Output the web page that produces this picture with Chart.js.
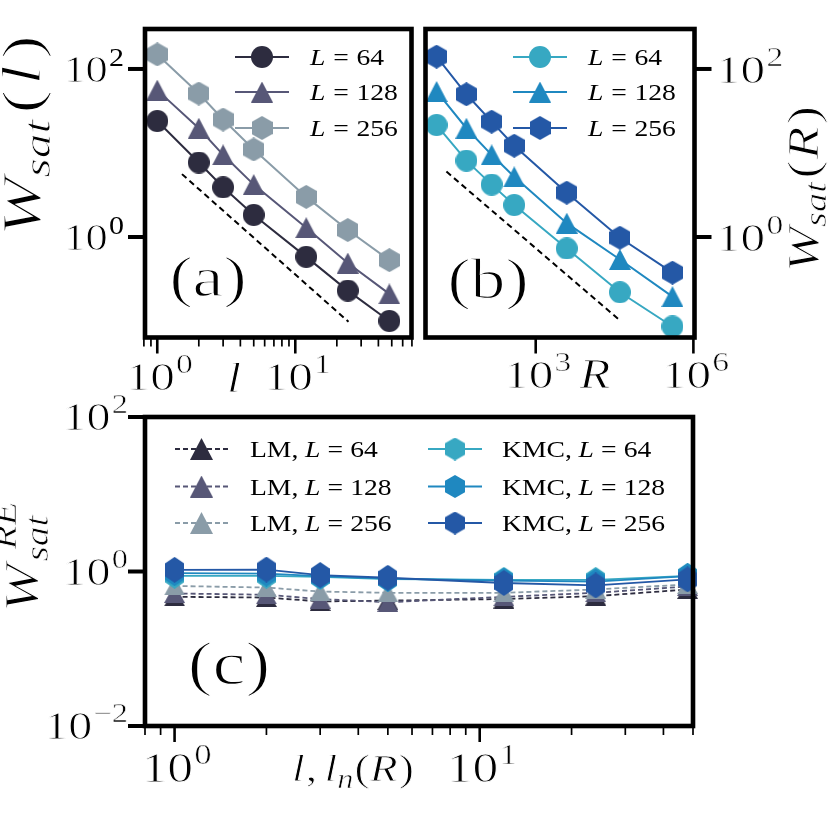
<!DOCTYPE html>
<html lang="en">
<head>
<meta charset="UTF-8">
<title>Saturation width scaling</title>
<script src="https://cdn.jsdelivr.net/npm/chart.js"></script>
<style>
  html, body { margin: 0; padding: 0; background: #fff; }
  #wrap { position: relative; width: 830px; height: 817px; }
  #wrap canvas { position: absolute; left: 0; top: 0; }
</style>
</head>
<body>
<div id="wrap">
  <canvas id="panelA" width="830" height="817"></canvas>
  <canvas id="panelB" width="830" height="817"></canvas>
  <canvas id="panelC" width="830" height="817"></canvas>
</div>
<script>
// values
const sizes = [64, 128, 256];
const lVals = [1, 2, 3, 5, 12, 24, 48];
const rVals = [13, 48, 145, 390, 3900, 40000, 400000];

// (a) W_sat(l)
const wl64  = [24, 7.7, 3.9, 1.83, 0.58, 0.23, 0.10];
const wl128 = [56, 19.7, 9.5, 4.2, 1.29, 0.49, 0.21];
const wl256 = [149, 51, 25, 11, 3.0, 1.21, 0.53];
const guideAx = [1.51, 24.3];
const guideAy = [5.6, 0.098];

// (b) W_sat(R)
const wr64  = [21.5, 8.1, 4.2, 2.4, 0.73, 0.22, 0.086];
const wr128 = [54, 19.7, 9.5, 5.2, 1.46, 0.54, 0.195];
const wr256 = [140, 50, 23.6, 12.2, 3.37, 0.98, 0.376];
const guideBx = [20, 39000];
const guideBy = [6.0, 0.103];

// (c) W_sat^RE
const lm64   = [0.47, 0.46, 0.41, 0.42, 0.44, 0.48, 0.585];
const lm128  = [0.52, 0.50, 0.44, 0.40, 0.47, 0.53, 0.64];
const lm256  = [0.65, 0.62, 0.55, 0.53, 0.53, 0.585, 0.68];
const kmc64  = [0.88, 0.88, 0.85, 0.80, 0.78, 0.78, 0.88];
const kmc128 = [0.95, 0.94, 0.87, 0.81, 0.76, 0.74, 0.87];
const kmc256 = [1.05, 1.06, 0.90, 0.83, 0.71, 0.66, 0.79];

// tick values / exponents
const aXMajor = [1, 10], aXExp = [0, 1];
const aYMajor = [1, 100], aYExp = [0, 2];
const bXMajor = [1e3, 1e6], bXExp = [3, 6];
const bYMajor = [1, 100], bYExp = [0, 2];
const cXMajor = [1, 10], cXExp = [0, 1];
const cYMajor = [0.01, 1, 100], cYExp = [-2, 0, 2];

const greys = ['#2d2c3f', '#575777', '#8a9ca8'];
const blues = ['#37a8c2', '#1f88c0', '#2458a6'];

const W = 830, H = 817;
const SERIF = '"Liberation Serif", "Times New Roman", serif';
const SX = 1.2;

function minorTicks(lo, hi) {
  const out = [];
  for (let e = Math.floor(Math.log10(lo)); e <= Math.ceil(Math.log10(hi)); e++) {
    for (let m = 2; m <= 9; m++) {
      const v = m * Math.pow(10, e - 1);
      if (v >= lo * 0.999 && v <= hi * 1.001) out.push(v);
    }
  }
  return out;
}

function markerCanvas(shape, color, w, h) {
  const c = document.createElement('canvas');
  c.width = w; c.height = h;
  const g = c.getContext('2d');
  g.fillStyle = color;
  g.beginPath();
  if (shape === 'circle') {
    g.arc(w / 2, h / 2, w / 2, 0, 2 * Math.PI);
  } else if (shape === 'triangle') {
    g.moveTo(w / 2, 0); g.lineTo(w, h); g.lineTo(0, h);
  } else {
    g.moveTo(w / 2, 0); g.lineTo(w, h / 4); g.lineTo(w, 3 * h / 4);
    g.lineTo(w / 2, h); g.lineTo(0, 3 * h / 4); g.lineTo(0, h / 4);
  }
  g.closePath();
  g.fill();
  return c;
}

// text made of runs (italic, sub/superscripts); big glyphs get thinned a bit
function drawRun(ctx, parts, x, y, opt) {
  opt = opt || {};
  let pos = 0, base = 0;
  const placed = parts.map(p => {
    const f = (p.it ? 'italic ' : '') + p.size + 'px ' + SERIF;
    ctx.font = f;
    const w = ctx.measureText(p.t).width;
    let start = p.same ? base : pos + (p.gap || 0);
    if (!p.same) base = start;
    start += p.shift || 0;
    pos = Math.max(pos, start + w);
    return { t: p.t, f, start, dy: p.dy || 0, size: p.size };
  });
  const off = opt.align === 'center' ? -pos / 2 : opt.align === 'right' ? -pos : 0;
  ctx.save();
  ctx.translate(x, y);
  if (opt.rot) ctx.rotate(opt.rot);
  ctx.scale(opt.sx || SX, 1);
  ctx.fillStyle = '#000';
  ctx.strokeStyle = '#fff';
  ctx.textBaseline = 'alphabetic';
  ctx.textAlign = 'left';
  placed.forEach(p => {
    ctx.font = p.f;
    ctx.fillText(p.t, off + p.start, p.dy);
    if (p.size >= 26) {
      ctx.lineWidth = p.size * 0.022;
      ctx.strokeText(p.t, off + p.start, p.dy);
    }
  });
  ctx.restore();
}

function powLabel(e, s) {
  return [{ t: '10', size: s }, { t: e < 0 ? '\u2212' + (-e) : String(e), size: Math.round(s * 0.68), dy: -s * 0.42, gap: 1 }];
}

function seg(ctx, x0, y0, x1, y1, lw) {
  ctx.lineWidth = lw;
  ctx.beginPath(); ctx.moveTo(x0, y0); ctx.lineTo(x1, y1); ctx.stroke();
}

function legendRow(ctx, r) {
  ctx.save();
  ctx.strokeStyle = r.color;
  ctx.lineWidth = r.lw;
  ctx.setLineDash(r.dash || []);
  ctx.beginPath(); ctx.moveTo(r.x0, r.y); ctx.lineTo(r.x1, r.y); ctx.stroke();
  ctx.restore();
  const m = r.marker;
  ctx.drawImage(m, (r.x0 + r.x1) / 2 - m.width / 2, r.y - m.height / 2);
  drawRun(ctx, r.text, r.tx, r.y + r.tdy);
}

function decor(cfg) {
  return {
    id: 'decor',
    afterDatasetsDraw(chart) {
      const ctx = chart.ctx, a = chart.chartArea;
      const xs = chart.scales.x, ys = chart.scales.y;
      ctx.save();
      ctx.strokeStyle = '#000';
      ctx.lineCap = 'butt';
      // x ticks (bottom)
      (cfg.xMinor || []).forEach(v => { const p = xs.getPixelForValue(v); seg(ctx, p, a.bottom, p, a.bottom + 9, 1.7); });
      cfg.xMajor.forEach(v => { const p = xs.getPixelForValue(v); seg(ctx, p, a.bottom, p, a.bottom + 16, 2.6); });
      // y ticks
      const side = cfg.yRight ? 1 : -1;
      const ex = cfg.yRight ? a.right : a.left;
      cfg.yMajor.forEach(v => { const p = ys.getPixelForValue(v); seg(ctx, ex, p, ex + side * 17, p, 4); });
      // frame on top
      ctx.lineWidth = 4.6;
      ctx.lineJoin = 'miter';
      ctx.strokeRect(a.left, a.top, a.right - a.left, a.bottom - a.top);
      // tick labels
      cfg.xMajor.forEach((v, i) => drawRun(ctx, powLabel(cfg.xExp[i], cfg.xFont), xs.getPixelForValue(v) + 2, cfg.xBase, { align: 'center' }));
      cfg.yMajor.forEach((v, i) => drawRun(ctx, powLabel(cfg.yExp[i], cfg.yFont), cfg.yLabX, ys.getPixelForValue(v) + cfg.yDy, { align: cfg.yRight ? 'left' : 'right' }));
      cfg.extra(ctx);
      ctx.restore();
    }
  };
}

function series(xv, yv) { return xv.map((x, i) => ({ x, y: yv[i] })); }

function makeChart(id, area, xr, yr, datasets, plugin) {
  return new Chart(document.getElementById(id), {
    type: 'scatter',
    data: { datasets },
    options: {
      responsive: false,
      animation: false,
      events: [],
      layout: { padding: { left: area[0], top: area[1], right: W - area[2], bottom: H - area[3] } },
      scales: {
        x: { type: 'logarithmic', min: xr[0], max: xr[1], bounds: 'data', display: false },
        y: { type: 'logarithmic', min: yr[0], max: yr[1], bounds: 'data', display: false }
      },
      plugins: { legend: { display: false }, tooltip: { enabled: false } }
    },
    plugins: [plugin]
  });
}

function lineSet(pts, color, marker, opts) {
  return Object.assign({
    data: pts, showLine: true, borderColor: color, backgroundColor: color,
    borderWidth: 2, pointStyle: marker, pointRadius: 11, clip: false
  }, opts || {});
}

function guideSet(xv, yv) {
  return { data: series(xv, yv), showLine: true, borderColor: '#000', borderWidth: 2,
           borderDash: [6, 4], pointRadius: 0, clip: false };
}

// ---------- panel (a) ----------
const mA = [markerCanvas('circle', greys[0], 22, 22), markerCanvas('triangle', greys[1], 22, 21), markerCanvas('hex', greys[2], 21, 24)];
const wlAll = [wl64, wl128, wl256];
makeChart('panelA', [145, 29, 411.5, 337.5], [0.815, 69.5], [0.0636, 299], [
  ...wlAll.map((yv, i) => lineSet(series(lVals, yv), greys[i], mA[i])),
  guideSet(guideAx, guideAy)
], decor({
  xMajor: aXMajor, xExp: aXExp, xMinor: minorTicks(0.8, 70), xFont: 41, xBase: 390,
  yMajor: aYMajor, yExp: aYExp, yFont: 37, yLabX: 124, yDy: 13,
  extra(ctx) {
    drawRun(ctx, [{ t: 'l', it: true, size: 42 }], 234, 392, { align: 'center' });
    drawRun(ctx, [
      { t: 'W', it: true, size: 54 }, { t: 'sat', it: true, size: 38, dy: 10 },
      { t: '(', size: 54, gap: 5 }, { t: 'l', it: true, size: 54, gap: 4 }, { t: ')', size: 54, gap: 5 }
    ], 40, 236, { rot: -Math.PI / 2, sx: 1.3 });
    drawRun(ctx, [{ t: '(a)', size: 58 }], 208, 296, { align: 'center' });
    [57, 92, 128].forEach((y, i) => legendRow(ctx, {
      x0: 235, x1: 289, y, color: greys[i], lw: 2, marker: mA[i], tx: 310, tdy: 8,
      text: [{ t: 'L', it: true, size: 23 }, { t: '=', size: 23, gap: 6.5 }, { t: String(sizes[i]), size: 23, gap: 6.5 }]
    }));
  }
}));

// ---------- panel (b) ----------
const mB = [markerCanvas('circle', blues[0], 22, 22), markerCanvas('triangle', blues[1], 22, 21), markerCanvas('hex', blues[2], 21, 24)];
const wrAll = [wr64, wr128, wr256];
makeChart('panelB', [425.5, 29, 694.5, 337.5], [8, 1.05e6], [0.0636, 299], [
  ...wrAll.map((yv, i) => lineSet(series(rVals, yv), blues[i], mB[i])),
  guideSet(guideBx, guideBy)
], decor({
  xMajor: bXMajor, xExp: bXExp, xFont: 41, xBase: 388,
  yMajor: bYMajor, yExp: bYExp, yFont: 41, yLabX: 716, yDy: 14, yRight: true,
  extra(ctx) {
    drawRun(ctx, [{ t: 'R', it: true, size: 42 }], 595, 388, { align: 'center' });
    drawRun(ctx, [
      { t: 'W', it: true, size: 45 }, { t: 'sat', it: true, size: 32, dy: 8 },
      { t: '(', size: 45, gap: 3 }, { t: 'R', it: true, size: 45, gap: 1 }, { t: ')', size: 45, gap: 2 }
    ], 818, 272, { rot: -Math.PI / 2 });
    drawRun(ctx, [{ t: '(b)', size: 58 }], 488, 298, { align: 'center' });
    [57, 92, 128].forEach((y, i) => legendRow(ctx, {
      x0: 513, x1: 567, y, color: blues[i], lw: 2, marker: mB[i], tx: 588, tdy: 8,
      text: [{ t: 'L', it: true, size: 23 }, { t: '=', size: 23, gap: 6.5 }, { t: String(sizes[i]), size: 23, gap: 6.5 }]
    }));
  }
}));

// ---------- panel (c) ----------
const triC = greys.map(c => markerCanvas('triangle', c, 21, 19));
const hexC = blues.map(c => markerCanvas('hex', c, 19, 26));
const triL = greys.map(c => markerCanvas('triangle', c, 23, 22));
const hexL = blues.map(c => markerCanvas('hex', c, 20, 23));
const lmAll = [lm64, lm128, lm256];
const kmcAll = [kmc64, kmc128, kmc256];
makeChart('panelC', [145, 417, 693, 726], [0.8, 50], [0.01, 100], [
  ...lmAll.map((yv, i) => lineSet(series(lVals, yv), greys[i], triC[i], { borderWidth: 1.8, borderDash: [5, 3], order: 6 - i })),
  ...kmcAll.map((yv, i) => lineSet(series(lVals, yv), blues[i], hexC[i], { borderWidth: 1.8, order: 3 - i }))
], decor({
  xMajor: cXMajor, xExp: cXExp, xMinor: minorTicks(0.8, 50), xFont: 43, xBase: 782,
  yMajor: cYMajor, yExp: cYExp, yFont: 40, yLabX: 128, yDy: 13,
  extra(ctx) {
    drawRun(ctx, [
      { t: 'l', it: true, size: 38 }, { t: ',', size: 38, gap: 1 }, { t: 'l', it: true, size: 38, gap: 6 },
      { t: 'n', it: true, size: 27, dy: 7 }, { t: '(', size: 38, gap: 1 }, { t: 'R', it: true, size: 38 }, { t: ')', size: 38, gap: 1 }
    ], 292, 781);
    drawRun(ctx, [
      { t: 'W', it: true, size: 48 }, { t: 'sat', it: true, size: 33, dy: 10, gap: 2 },
      { t: 'RE', it: true, size: 33, dy: -22, same: true, shift: 10 }
    ], 38, 612, { rot: -Math.PI / 2 });
    drawRun(ctx, [{ t: '(c)', size: 62 }], 229, 684, { align: 'center' });
    [449, 486.5, 523].forEach((y, i) => {
      legendRow(ctx, {
        x0: 175, x1: 228, y, color: greys[i], lw: 1.8, dash: [5, 3], marker: triL[i], tx: 250, tdy: 8,
        text: [{ t: 'LM,', size: 23 }, { t: 'L', it: true, size: 23, gap: 5.5 }, { t: '=', size: 23, gap: 6 }, { t: String(sizes[i]), size: 23, gap: 6 }]
      });
      legendRow(ctx, {
        x0: 428, x1: 482, y, color: blues[i], lw: 1.8, marker: hexL[i], tx: 502, tdy: 8,
        text: [{ t: 'KMC,', size: 23 }, { t: 'L', it: true, size: 23, gap: 5.5 }, { t: '=', size: 23, gap: 6 }, { t: String(sizes[i]), size: 23, gap: 6 }]
      });
    });
  }
}));
</script>
</body>
</html>
